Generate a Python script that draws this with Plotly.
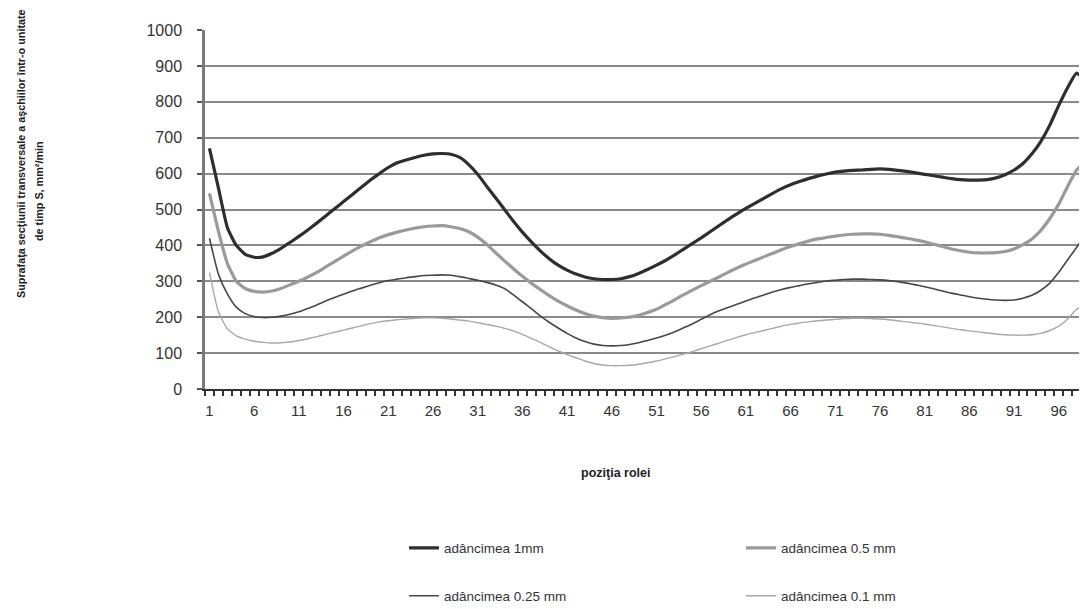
import plotly.graph_objects as go

positions = list(range(1, 100))
tick_positions = list(range(1, 100, 5))
tick_labels = [str(v) for v in tick_positions]

s_1mm = [670, 560, 450, 400, 375, 367, 368, 378, 392, 408,
         425, 443, 462, 482, 502, 522, 542, 562, 582, 600,
         617, 630, 638, 645, 651, 655, 656, 654, 645, 625,
         598, 565, 533, 500, 467, 437, 410, 385, 363, 345,
         331, 320, 312, 307, 305, 305, 307, 313, 322, 333,
         345, 358, 373, 389, 405, 421, 438, 455, 472, 488,
         503, 517, 531, 545, 558, 569, 578, 586, 593, 599,
         604, 607, 609, 610, 612, 613, 612, 609, 606, 602,
         598, 594, 590, 586, 583, 582, 582, 583, 588, 597,
         610, 628, 655, 690, 735, 790, 840, 880, 855]

s_05mm = [545, 440, 350, 300, 280, 272, 270, 273, 280, 290,
          300, 312, 325, 340, 355, 370, 385, 398, 410, 421,
          430, 437, 443, 448, 452, 454, 455, 452, 447, 438,
          423, 403, 380, 357, 335, 314, 295, 277, 260, 245,
          232, 220, 210, 203, 199, 197, 198, 200, 205, 213,
          222, 235, 248, 262, 275, 288, 300, 312, 325, 337,
          348, 358, 368, 378, 388, 397, 405, 412, 418, 422,
          426, 429, 431, 432, 432, 431, 428, 424, 420, 415,
          410, 403, 397, 390, 385, 381, 379, 379, 380, 383,
          390, 402, 418, 442, 475, 515, 565, 610, 635]

s_025mm = [420, 320, 265, 228, 210, 202, 199, 200, 203, 208,
           215, 224, 234, 245, 255, 264, 273, 281, 289, 296,
           302, 306, 310, 313, 316, 317, 318, 317, 313, 308,
           303, 297, 290, 280, 262, 243, 224, 204, 186, 170,
           155, 142, 132, 125, 121, 120, 121, 124, 129, 135,
           142, 150, 159, 170, 181, 194, 207, 218, 227, 236,
           245, 254, 262, 270, 277, 283, 288, 293, 297, 301,
           303, 305, 306, 306, 305, 304, 302, 299, 295, 290,
           285, 279, 273, 267, 262, 257, 253, 250, 248, 247,
           248, 253, 261, 275, 295, 325, 360, 395, 430]

s_01mm = [325, 215, 168, 148, 139, 133, 130, 128, 129, 131,
          135, 140, 146, 152, 158, 164, 170, 176, 182, 187,
          190, 193, 195, 197, 198, 198, 197, 195, 192, 189,
          185, 180, 175, 169, 162, 152, 141, 130, 118, 106,
          96, 87, 78, 71, 67, 65, 65, 66, 69, 73,
          78, 84, 90, 97, 104, 112, 120, 128, 136, 144,
          151, 157, 163, 169, 175, 180, 184, 187, 190, 192,
          194, 196, 197, 197, 196, 195, 193, 190, 187, 184,
          181, 177, 173, 169, 165, 162, 159, 156, 153, 151,
          150, 150, 151, 155, 163, 175, 195, 222, 235]

series_names = ["adâncimea 1mm", "adâncimea 0.5 mm", "adâncimea 0.25 mm", "adâncimea 0.1 mm"]

FONT = "Liberation Sans, Arial, sans-serif"
OFF = 8  # default page body margin
W, H = 1087 - OFF, 609 - OFF
L, R, T, B = 205 - OFF, 0, 30 - OFF, 220
PW, PH = W - L - R, H - T - B


def px(x):
    # screen x -> paper fraction
    return (x - OFF - L) / PW


def py(y):
    # screen y -> paper fraction
    return (H - B - (y - OFF)) / PH


fig = go.Figure()
styles = [
    dict(color="#2e2e2e", width=3.2),
    dict(color="#9a9a9a", width=3.2),
    dict(color="#474747", width=1.6),
    dict(color="#a8a8a8", width=1.4),
]
data = [s_1mm, s_05mm, s_025mm, s_01mm]
legend_ids = ["legend", "legend2", "legend3", "legend4"]
for name, vals, st, lg in zip(series_names, data, styles, legend_ids):
    fig.add_trace(go.Scatter(x=positions, y=vals, mode="lines", name=name,
                             line=dict(color=st["color"], width=st["width"], shape="spline", smoothing=0.5),
                             legend=lg, hoverinfo="skip"))

leg_common = dict(font=dict(family=FONT, size=13.5, color="#333333"), bgcolor="rgba(0,0,0,0)",
                  xanchor="left", yanchor="middle", borderwidth=0)
fig.update_layout(
    width=W, height=H,
    margin=dict(l=L, r=R, t=T, b=B, autoexpand=False),
    paper_bgcolor="white", plot_bgcolor="white",
    showlegend=True,
    legend=dict(x=px(404), y=py(548), **leg_common),
    legend2=dict(x=px(741), y=py(548), **leg_common),
    legend3=dict(x=px(404), y=py(596), **leg_common),
    legend4=dict(x=px(741), y=py(596), **leg_common),
    xaxis=dict(range=[0.5, 0.5 + PW / 8.94], tickmode="array", tickvals=tick_positions, ticktext=tick_labels,
               ticks="", showgrid=False, zeroline=False, showline=True, linecolor="#333333", linewidth=2,
               ticklabelstandoff=7,
               tickfont=dict(family=FONT, size=15, color="#333333"),
               minor=dict(ticks="outside", tick0=0.5, dtick=1, ticklen=5, tickwidth=1.5, tickcolor="#333333",
                          showgrid=False)),
    yaxis=dict(range=[0, 1000], tickmode="linear", tick0=0, dtick=100, showgrid=True, gridcolor="#8a8a8a",
               gridwidth=1.5, zeroline=False, showline=True, linecolor="#7a7a7a", linewidth=2.5,
               ticks="outside", ticklen=5, tickwidth=1.5, tickcolor="#555555",
               ticklabelstandoff=12,
               tickfont=dict(family=FONT, size=16, color="#333333")),
)

fig.add_annotation(text="<b>poziţia rolei</b>", xref="paper", yref="paper", x=px(615), y=py(473),
                   xanchor="center", yanchor="middle",
                   showarrow=False, font=dict(family=FONT, size=12.5, color="#222222"))
fig.add_annotation(text="<b>Suprafaţa secţiunii transversale a aşchiilor într-o unitate</b>",
                   xref="paper", yref="paper", x=px(21), y=py(154), xanchor="center", yanchor="middle",
                   textangle=-90, showarrow=False,
                   font=dict(family=FONT, size=10.8, color="#222222"))
fig.add_annotation(text="<b>de timp S, mm²/min</b>",
                   xref="paper", yref="paper", x=px(39), y=py(191), xanchor="center", yanchor="middle",
                   textangle=-90, showarrow=False,
                   font=dict(family=FONT, size=10.8, color="#222222"))

fig.write_html("out.html")
